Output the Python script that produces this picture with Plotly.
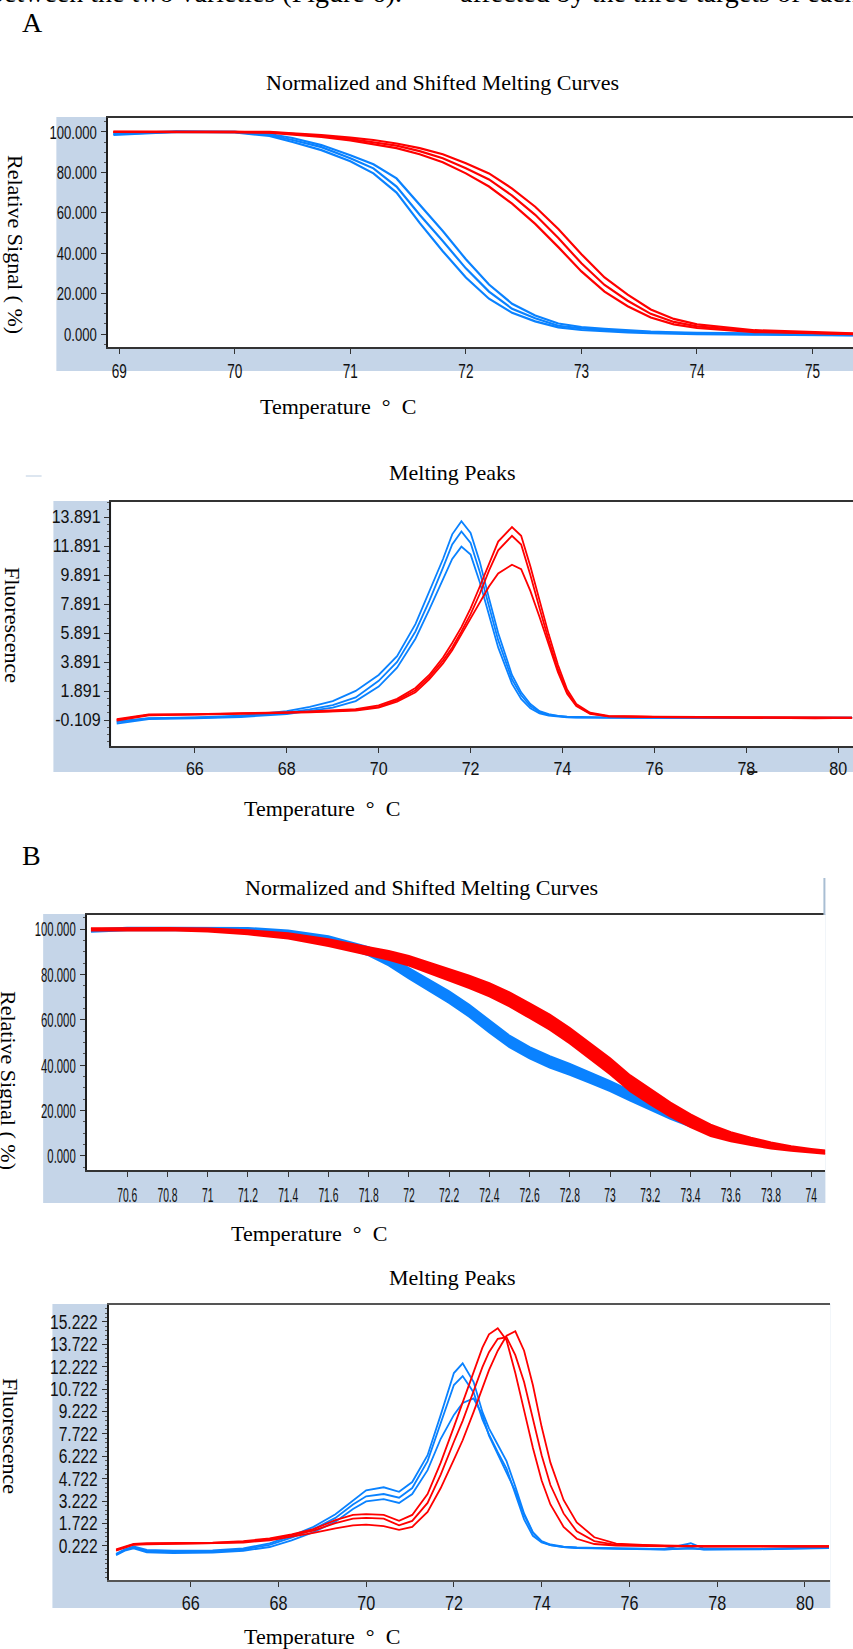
import plotly.graph_objects as go

W, H = 853, 1649


def px(x):
    return x / W


def py(y):
    return 1 - y / H


# ---------------- Panel A1 : Normalized and Shifted Melting Curves ----------------
T_A1 = [68.95, 69.5, 70.0, 70.3, 70.5, 70.75, 71.0, 71.2, 71.4, 71.6, 71.8, 72.0, 72.2,
        72.4, 72.6, 72.8, 73.0, 73.2, 73.4, 73.6, 73.8, 74.0, 74.5, 75.0, 75.35]
A1_blue_low = [98.5, 100, 99.8, 98, 95, 91, 85.5, 79.5, 70, 55, 41, 28, 17.5, 10.5, 6.3, 3.3,
               2.0, 1.3, 0.8, 0.5, 0.2, 0.0, -0.3, -0.5, -0.6]
A1_blue_mid = [99.0, 100, 100, 98.5, 96, 92.5, 87, 82, 73, 59, 46, 32.5, 21, 12.5, 7.8, 4.1,
               2.8, 2.0, 1.3, 0.9, 0.6, 0.3, 0.0, -0.3, -0.5]
A1_blue_high = [99.2, 100.3, 100, 99, 97, 93.5, 88.5, 84, 77, 64, 51, 37, 24.5, 15, 9.2, 5.2,
                3.5, 2.6, 1.8, 1.2, 0.9, 0.6, 0.3, 0.0, -0.2]
A1_red_low = [100, 100, 100, 99.6, 98.7, 97.5, 95.8, 94, 92, 89, 85, 79.5, 73, 64.5, 54.5, 43,
              31, 21, 13.8, 8.2, 4.8, 3.0, 1.0, 0.4, 0.0]
A1_red_mid = [100, 100, 100, 99.8, 99, 98, 96.5, 95, 93.2, 90.5, 87, 82, 76.5, 68.5, 59, 47.5,
              35, 24.3, 16.5, 10, 6, 3.8, 1.4, 0.6, 0.1]
A1_red_high = [100, 100, 100, 100, 99.3, 98.5, 97.2, 96, 94.3, 92, 89, 84.5, 79.5, 72, 63, 52,
               39.5, 28, 19.5, 12.2, 7.5, 4.8, 1.9, 0.9, 0.3]
A1_xticks = [69, 70, 71, 72, 73, 74, 75]
A1_yticks = [0, 20, 40, 60, 80, 100]
A1_yticktext = ["0.000", "20.000", "40.000", "60.000", "80.000", "100.000"]

# ---------------- Panel A2 : Melting Peaks ----------------
T_A2 = [64.3, 64.7, 65.0, 66.0, 67.0, 68.0, 68.5, 69.0, 69.5, 70.0, 70.4, 70.8, 71.1, 71.4,
        71.6, 71.8, 72.0, 72.2, 72.4, 72.6, 72.9, 73.1, 73.3, 73.5, 73.7, 73.9, 74.1, 74.3,
        74.6, 75.0, 76.0, 78.0, 79.5, 80.3]
A2_blue_high = [-0.2, -0.05, 0.02, 0.08, 0.2, 0.5, 0.8, 1.2, 1.9, 3.0, 4.3, 6.5, 8.7, 11.0,
                12.7, 13.6, 12.8, 10.8, 8.3, 5.9, 3.0, 1.8, 1.0, 0.5, 0.3, 0.18, 0.12, 0.1,
                0.08, 0.08, 0.06, 0.05, 0.06, 0.06]
A2_blue_mid = [-0.25, -0.1, 0.0, 0.05, 0.15, 0.4, 0.63, 0.92, 1.45, 2.6, 3.9, 6.0, 8.1, 10.4,
               12.0, 12.9, 12.1, 10.1, 7.7, 5.4, 2.7, 1.6, 0.85, 0.45, 0.25, 0.17, 0.1, 0.08,
               0.07, 0.07, 0.05, 0.03, 0.05, 0.05]
A2_blue_low = [-0.35, -0.2, -0.05, 0.0, 0.1, 0.3, 0.5, 0.75, 1.2, 2.2, 3.5, 5.5, 7.5, 9.6,
               11.0, 11.85, 11.3, 9.4, 7.1, 4.9, 2.4, 1.35, 0.7, 0.35, 0.2, 0.12, 0.08, 0.06,
               0.05, 0.05, 0.04, 0.02, 0.04, 0.04]
A2_red_high = [-0.05, 0.15, 0.28, 0.3, 0.35, 0.42, 0.48, 0.55, 0.65, 0.9, 1.35, 2.1, 3.0, 4.2,
               5.2, 6.3, 7.6, 9.1, 10.7, 12.2, 13.2, 12.6, 10.5, 8.1, 5.8, 3.7, 2.0, 1.0, 0.4,
               0.18, 0.12, 0.09, 0.07, 0.06]
A2_red_mid = [-0.1, 0.12, 0.25, 0.28, 0.33, 0.4, 0.45, 0.5, 0.6, 0.8, 1.25, 1.95, 2.85, 4.0,
              4.9, 6.0, 7.2, 8.6, 10.2, 11.6, 12.6, 12.0, 9.9, 7.6, 5.4, 3.4, 1.8, 0.9, 0.35,
              0.15, 0.1, 0.08, 0.05, 0.05]
A2_red_low = [-0.15, 0.08, 0.22, 0.26, 0.3, 0.38, 0.42, 0.47, 0.55, 0.75, 1.15, 1.8, 2.7, 3.8,
              4.7, 5.8, 6.9, 8.0, 9.1, 10.0, 10.6, 10.3, 8.8, 7.0, 5.1, 3.2, 1.7, 0.85, 0.32,
              0.14, 0.1, 0.07, 0.0, 0.04]
A2_xticks = [66, 68, 70, 72, 74, 76, 78, 80]
A2_yticks = [-0.109, 1.891, 3.891, 5.891, 7.891, 9.891, 11.891, 13.891]
A2_yticktext = ["-0.109", "1.891", "3.891", "5.891", "7.891", "9.891", "11.891", "13.891"]

# ---------------- Panel B1 : Normalized and Shifted Melting Curves ----------------
T_B1 = [70.42, 70.6, 70.8, 71.0, 71.2, 71.4, 71.6, 71.8, 71.9, 72.0, 72.1, 72.2, 72.3, 72.4,
        72.5, 72.6, 72.7, 72.8, 72.9, 73.0, 73.1, 73.2, 73.3, 73.4, 73.5, 73.6, 73.7, 73.8,
        73.9, 74.0, 74.07]
B1_blue_high = [99.8, 100.6, 100.6, 100.6, 100.5, 99.4, 96.8, 92, 88, 82.8, 77.8, 72.6, 66.6,
                59.6, 53, 48, 44, 40.6, 36.8, 33, 28.8, 24.3, 20.2, 16.3, 13.0, 10.2,
                None, None, None, None, None]
B1_blue_low = [98.8, 99.5, 99.5, 99.5, 99.1, 97.4, 94.2, 88.4, 84, 78.2, 72.8, 67.4, 61.4,
               54.4, 48, 43, 39, 35.8, 32.2, 28.6, 24.4, 20.3, 16.4, 12.9, 10.0, 7.6,
               None, None, None, None, None]
B1_red_high = [100.4, 100.5, 100.5, 100.3, 99.5, 98.2, 95.5, 92, 90.3, 88.1, 85.3, 82.3, 79.4,
               76.1, 72.1, 67.2, 62.3, 56.4, 49.7, 43, 35.5, 29.3, 23.5, 18.3, 13.8, 10.5,
               8.0, 5.9, 4.3, 3.1, 2.4]
B1_red_low = [99.4, 99.5, 99.5, 98.9, 97.7, 95.8, 92.5, 88.6, 86.5, 83.9, 80.7, 77.3, 74.0,
              70.3, 65.9, 60.8, 55.7, 49.6, 42.9, 36.0, 28.5, 22.7, 17.3, 12.7, 8.8, 6.5, 4.8,
              3.3, 2.3, 1.5, 1.0]
B1_xticks = [70.6, 70.8, 71, 71.2, 71.4, 71.6, 71.8, 72, 72.2, 72.4, 72.6, 72.8, 73, 73.2,
             73.4, 73.6, 73.8, 74]
B1_xticktext = ["70.6", "70.8", "71", "71.2", "71.4", "71.6", "71.8", "72", "72.2", "72.4",
                "72.6", "72.8", "73", "73.2", "73.4", "73.6", "73.8", "74"]
B1_yticks = [0, 20, 40, 60, 80, 100]
B1_yticktext = ["0.000", "20.000", "40.000", "60.000", "80.000", "100.000"]

# ---------------- Panel B2 : Melting Peaks ----------------
T_B2 = [64.3, 64.5, 64.7, 65.0, 65.6, 66.5, 67.2, 67.8, 68.3, 68.8, 69.3, 69.7, 70.0, 70.4,
        70.75, 71.05, 71.4, 71.7, 72.0, 72.2, 72.45, 72.65, 72.8, 73.0, 73.2, 73.4, 73.6,
        73.8, 74.0, 74.2, 74.5, 74.8, 75.2, 75.7, 76.8, 77.4, 77.7, 79.0, 80.55]
B2_blue_high = [-0.3, 0.0, 0.18, -0.05, -0.1, -0.08, 0.05, 0.4, 0.9, 1.5, 2.35, 3.3, 3.95,
                4.15, 3.85, 4.5, 6.3, 9.0, 11.8, 12.45, 11.2, 9.2, 8.1, 7.0, 5.9, 4.2, 2.4,
                1.15, 0.55, 0.32, 0.18, 0.12, 0.08, 0.06, 0.02, 0.4, 0.05, 0.03, 0.12]
B2_blue_mid = [-0.35, -0.05, 0.12, -0.12, -0.18, -0.15, -0.02, 0.3, 0.78, 1.35, 2.1, 3.0,
               3.55, 3.7, 3.45, 4.1, 5.9, 8.5, 11.0, 11.6, 10.5, 8.7, 7.7, 6.5, 5.4, 3.7, 2.0,
               0.9, 0.45, 0.28, 0.15, 0.1, 0.07, 0.05, 0.0, 0.05, 0.0, 0.02, 0.1]
B2_blue_low = [-0.4, -0.1, 0.05, -0.2, -0.25, -0.22, -0.1, 0.15, 0.6, 1.15, 1.85, 2.7, 3.2,
               3.35, 3.1, 3.7, 5.3, 7.4, 9.0, 9.8, 10.1, 9.0, 7.6, 6.4, 5.2, 3.9, 2.3, 1.1,
               0.5, 0.28, 0.14, 0.08, 0.06, 0.04, -0.02, 0.1, -0.02, 0.0, 0.08]
B2_red_left = [0.0, 0.2, 0.36, 0.4, 0.42, 0.45, 0.55, 0.72, 1.0, 1.35, 1.95, 2.3, 2.35, 2.3,
               1.9, 2.3, 3.7, 5.8, 8.2, 9.8, 11.9, 13.5, 14.4, 14.8, 14.0, 11.8, 9.3, 6.8,
               4.6, 3.0, 1.5, 0.7, 0.35, 0.25, 0.2, 0.2, 0.18, 0.18, 0.18]
B2_red_mid = [-0.05, 0.15, 0.33, 0.36, 0.38, 0.42, 0.5, 0.67, 0.95, 1.25, 1.75, 2.05, 2.1,
              2.05, 1.6, 1.9, 3.1, 5.0, 7.2, 8.6, 10.6, 12.2, 13.2, 14.1, 14.2, 13.0, 11.2,
              8.8, 6.3, 4.3, 2.4, 1.2, 0.55, 0.3, 0.22, 0.22, 0.2, 0.2, 0.2]
B2_red_right = [-0.1, 0.1, 0.3, 0.33, 0.35, 0.38, 0.45, 0.6, 0.85, 1.1, 1.4, 1.6, 1.65, 1.55,
                1.3, 1.5, 2.5, 4.1, 6.0, 7.3, 9.2, 10.8, 12.0, 13.3, 14.3, 14.6, 13.3, 11.0,
                8.2, 5.8, 3.3, 1.8, 0.8, 0.38, 0.22, 0.22, 0.2, 0.2, 0.2]
B2_xticks = [66, 68, 70, 72, 74, 76, 78, 80]
B2_yticks = [0.222, 1.722, 3.222, 4.722, 6.222, 7.722, 9.222, 10.722, 12.222, 13.722, 15.222]
B2_yticktext = ["0.222", "1.722", "3.222", "4.722", "6.222", "7.722", "9.222", "10.722",
                "12.222", "13.722", "15.222"]

# ---------------- styling ----------------
BLUE = "#0a82ff"
RED = "#ff0000"
FRAME = "rgb(197,213,232)"
SERIF = "Liberation Serif, Times New Roman, serif"
SANS = "Liberation Sans, Arial, sans-serif"

fig = go.Figure()


def add_lines(x, ys, color, k, width=1.5):
    xa = "x" if k == 1 else "x%d" % k
    ya = "y" if k == 1 else "y%d" % k
    for y in ys:
        fig.add_trace(go.Scatter(x=x, y=y, mode="lines", xaxis=xa, yaxis=ya,
                                 line=dict(color=color, width=width), showlegend=False,
                                 hoverinfo="skip"))


def add_band(x, lo, hi, color, k):
    xa = "x" if k == 1 else "x%d" % k
    ya = "y" if k == 1 else "y%d" % k
    fig.add_trace(go.Scatter(x=x, y=lo, mode="lines", xaxis=xa, yaxis=ya,
                             line=dict(color=color, width=2), showlegend=False,
                             hoverinfo="skip"))
    fig.add_trace(go.Scatter(x=x, y=hi, mode="lines", xaxis=xa, yaxis=ya, fill="tonexty",
                             fillcolor=color, line=dict(color=color, width=2),
                             showlegend=False, hoverinfo="skip"))


add_lines(T_A1, [A1_blue_low, A1_blue_mid, A1_blue_high], BLUE, 1, 2.2)
add_lines(T_A1, [A1_red_low, A1_red_mid, A1_red_high], RED, 1, 2.2)
add_lines(T_A2, [A2_blue_low, A2_blue_mid, A2_blue_high], BLUE, 2, 1.8)
add_lines(T_A2, [A2_red_low, A2_red_mid, A2_red_high], RED, 2, 1.8)
add_band(T_B1, B1_blue_low, B1_blue_high, BLUE, 3)
add_band(T_B1, B1_red_low, B1_red_high, RED, 3)
add_lines(T_B2, [B2_blue_low, B2_blue_mid, B2_blue_high], BLUE, 4, 1.8)
add_lines(T_B2, [B2_red_right, B2_red_mid, B2_red_left], RED, 4, 1.8)


def xaxis(dom, rng, vals, text, size, anchor, linecolor="#1e1e1e"):
    return dict(domain=dom, range=rng, tickmode="array", tickvals=vals, ticktext=text,
                ticks="outside", ticklen=5, tickwidth=1, tickcolor="#333", showline=True,
                mirror=True, linecolor=linecolor, linewidth=2, showgrid=False,
                zeroline=False, tickangle=0,
                tickfont=dict(family=SANS, size=size, color="#111"),
                anchor=anchor, fixedrange=True)


def yaxis(dom, rng, vals, text, size, anchor, mdt, m0):
    return dict(domain=dom, range=rng, tickmode="array", tickvals=vals, ticktext=text,
                ticks="outside", ticklen=5, tickwidth=1, tickcolor="#333", showline=True,
                mirror=False, linecolor="#1e1e1e", linewidth=2, showgrid=False,
                zeroline=False, tickangle=0,
                tickfont=dict(family=SANS, size=size, color="#111"),
                anchor=anchor, fixedrange=True,
                minor=dict(ticks="outside", ticklen=2, tickcolor="#555", dtick=mdt,
                           tick0=m0, showgrid=False))


fig.update_layout(
    width=W, height=H, margin=dict(l=0, r=0, t=0, b=0),
    paper_bgcolor="white", plot_bgcolor="rgba(0,0,0,0)", showlegend=False,
    xaxis=xaxis([px(97), 1.0], [68.90, 75.35], A1_xticks, [str(v) for v in A1_xticks],
                20, "y", "#333"),
    yaxis=yaxis([py(347), py(118)], [-6.4, 106.9], A1_yticks, A1_yticktext, 19, "x", 5, 0),
    xaxis2=xaxis([px(100.6), 1.0], [64.18, 80.32], A2_xticks, [str(v) for v in A2_xticks],
                 18.5, "y2", "#333"),
    yaxis2=yaxis([py(746), py(502)], [-1.90, 14.93], A2_yticks, A2_yticktext, 18, "x2",
                 0.5, -0.109),
    xaxis3=xaxis([px(76), px(825)], [70.40, 74.07], B1_xticks, B1_xticktext, 21, "y3",
                 "#333"),
    yaxis3=yaxis([py(1170), py(915)], [-6.2, 106.2], B1_yticks, B1_yticktext, 21, "x3", 5, 0),
    xaxis4=xaxis([px(98), px(830)], [64.13, 80.58], B2_xticks, [str(v) for v in B2_xticks],
                 19.5, "y4", "#555"),
    yaxis4=yaxis([py(1580), py(1305)], [-2.06, 16.36], B2_yticks, B2_yticktext, 19.5, "x4",
                 0.3, 0.222),
)

# light-blue frames and white plot areas
shapes = []
frames = [(45, 117, 853, 371), (42, 501, 853, 772), (31.6, 914, 825, 1203), (41, 1304, 830, 1608)]
plots = [(97, 118, 853, 347), (100.6, 502, 853, 746), (76, 915, 825, 1170), (98, 1305, 830, 1580)]
for (x0, y0, x1, y1) in frames:
    shapes.append(dict(type="rect", xref="paper", yref="paper", x0=px(x0), x1=px(x1),
                       y0=py(y1), y1=py(y0), fillcolor=FRAME, line=dict(width=0),
                       layer="below"))
for (x0, y0, x1, y1) in plots:
    shapes.append(dict(type="rect", xref="paper", yref="paper", x0=px(x0), x1=px(x1),
                       y0=py(y1), y1=py(y0), fillcolor="white", line=dict(width=0),
                       layer="below"))
# small decorations
shapes.append(dict(type="line", xref="paper", yref="paper", x0=px(824), x1=px(824),
                   y0=py(915), y1=py(878), line=dict(color="#a9bed3", width=2)))
shapes.append(dict(type="line", xref="paper", yref="paper", x0=px(14), x1=px(30),
                   y0=py(476), y1=py(476), line=dict(color="#dde6f0", width=2)))
shapes.append(dict(type="line", xref="paper", yref="paper", x0=px(746), x1=px(756),
                   y0=py(772), y1=py(772), line=dict(color="#222", width=2)))
fig.update_layout(shapes=shapes)

ann = []


def text(x, y, s, size=22, xanchor="center", angle=0):
    ann.append(dict(xref="paper", yref="paper", x=px(x), y=py(y), text=s, showarrow=False,
                    xanchor=xanchor, yanchor="middle", textangle=angle,
                    font=dict(family=SERIF, size=size, color="#000")))


# clipped running text of the page
text(398, -8, "between the two varieties (Figure 6).", size=28, xanchor="right")
text(452, -8, "affected by the three targets of each", size=28, xanchor="left")
# panel letters
text(21, 23, "A", size=28)
text(20, 855, "B", size=28)
# titles
text(437, 82, "Normalized and Shifted Melting Curves")
text(447, 473, "Melting Peaks")
text(415, 887, "Normalized and Shifted Melting Curves")
text(447, 1277, "Melting Peaks")
# x labels
XLAB = "Temperature \u00a0\u00b0\u00a0 C"
text(250, 406, XLAB, xanchor="left")
text(233, 808, XLAB, xanchor="left")
text(220, 1233, XLAB, xanchor="left")
text(233, 1636, XLAB, xanchor="left")
# y labels (rotated, partly clipped at the page edge as in the original)
text(4, 245, "Relative Signal ( %)", angle=90)
text(1, 625, "Fluorescence", angle=90)
text(-3, 1080, "Relative Signal ( %)", angle=90)
text(-1, 1436, "Fluorescence", angle=90)
fig.update_layout(annotations=ann)

# remove the page margin and condense the tick labels horizontally like the original
POST = """
document.body.style.margin = '0';
document.body.style.padding = '0';
document.documentElement.style.overflow = 'hidden';
var gd = document.getElementById('{plot_id}');
var sq = {'xtick': 0.68, 'ytick': 0.69, 'x2tick': 0.87, 'y2tick': 0.89,
          'x3tick': 0.49, 'y3tick': 0.54, 'x4tick': 0.83, 'y4tick': 0.80};
Object.keys(sq).forEach(function(k) {
  gd.querySelectorAll('g.' + k + ' text').forEach(function(t) {
    var x = parseFloat(t.getAttribute('x')) || 0;
    var tr = t.getAttribute('transform') || '';
    t.setAttribute('transform', tr + ' translate(' + x + ',0) scale(' + sq[k] + ',1) translate(' + (-x) + ',0)');
  });
});
"""

fig.write_html("out.html", post_script=POST, config={"displayModeBar": False})
